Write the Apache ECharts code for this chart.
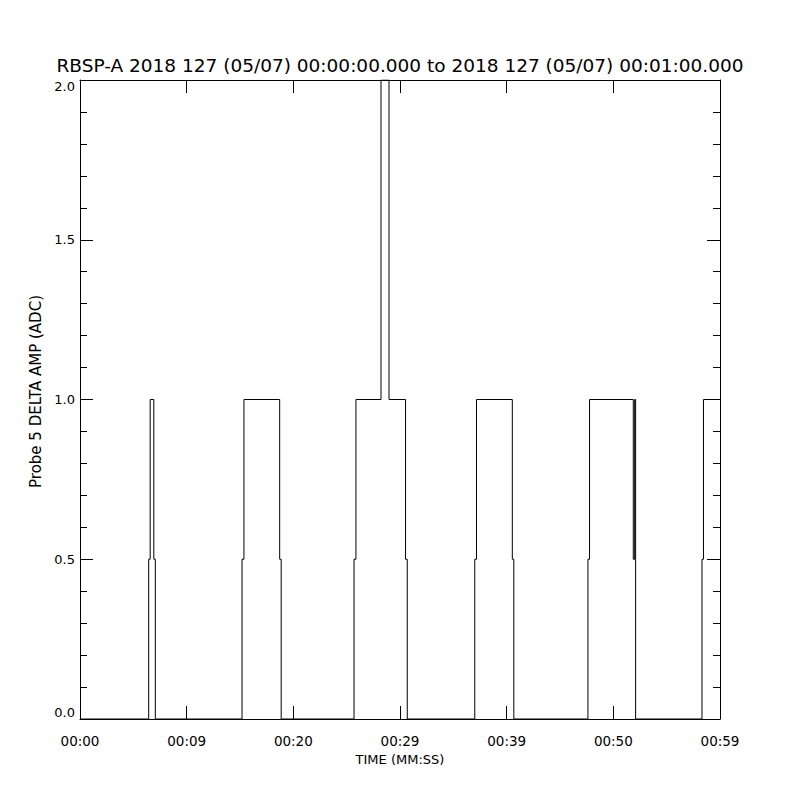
<!DOCTYPE html>
<html>
<head>
<meta charset="utf-8">
<script src="https://cdn.jsdelivr.net/npm/echarts@6/dist/echarts.min.js"></script>
<style>
html,body{margin:0;padding:0;background:#fff;}
#chart{width:800px;height:800px;}
</style>
</head>
<body>
<div id="chart"></div>
<script>
// Time (seconds since 00:00:00) at which each value begins (value holds until next time)
const times  = [0, 6.44, 6.58, 6.92, 7.06, 15.19, 15.37, 18.72, 18.86, 25.69, 25.87, 28.22, 28.97, 30.52, 30.68, 37.01, 37.17, 40.53, 40.67, 47.62, 47.77, 51.87, 52.0, 52.09, 58.31, 58.45, 60];
const values = [0,    0.5,  1,    0.5,  0,    0.5,   1,     0.5,   0,     0.5,   1,     2,     1,     0.5,   0,     0.5,   1,     0.5,   0,     0.5,   1,     0.5,   1,    0,     0.5,   1,     1];
const xTickLabels = ['00:00', '00:09', '00:20', '00:29', '00:39', '00:50', '00:59'];
const yTickValues = [0, 0.5, 1.0, 1.5, 2.0];

const titleText = 'RBSP-A 2018 127 (05/07) 00:00:00.000 to 2018 127 (05/07) 00:01:00.000';
const xName = 'TIME (MM:SS)';
const yName = 'Probe 5 DELTA AMP (ADC)';

// histogram-style polyline built from the arrays (value holds until the next time)
const stepData = [];
for (let i = 0; i < times.length - 1; i++) {
  stepData.push([times[i], values[i]]);
  stepData.push([times[i + 1], values[i]]);
}
stepData.push([times[times.length - 1], values[values.length - 1]]);

const FONT = 'DejaVu Sans';
const chart = echarts.init(document.getElementById('chart'), null, {renderer: 'svg'});

const lineStyle = {color: '#000', width: 1};
const baseX = {
  type: 'value', min: 0, max: 60, interval: 10,
  axisLine: {show: true, onZero: false, lineStyle},
  axisTick: {show: true, inside: true, length: 13, lineStyle},
  splitLine: {show: false}
};
const baseY = {
  type: 'value', min: 0, max: 2, interval: 0.5,
  axisLine: {show: true, onZero: false, lineStyle},
  axisTick: {show: true, inside: true, length: 13, lineStyle},
  minorTick: {show: true, splitNumber: 5, length: 7, lineStyle},
  splitLine: {show: false},
  minorSplitLine: {show: false}
};

chart.setOption({
  animation: false,
  backgroundColor: '#fff',
  title: {
    text: titleText, left: 'center', top: 51,
    textStyle: {fontFamily: FONT, fontSize: 18.5, fontWeight: 'normal', color: '#000'}
  },
  grid: {left: 80, right: 80, top: 80, bottom: 81},
  xAxis: [
    Object.assign({}, baseX, {
      position: 'bottom',
      name: xName, nameLocation: 'middle', nameGap: 32,
      nameTextStyle: {fontFamily: FONT, fontSize: 13, color: '#000'},
      axisLabel: {
        show: true, margin: 15, color: '#000', fontFamily: FONT, fontSize: 13.5,
        formatter: function (v) { return xTickLabels[Math.round(v / 10)] || ''; }
      }
    }),
    Object.assign({}, baseX, {position: 'top', axisLabel: {show: false}})
  ],
  yAxis: [
    Object.assign({}, baseY, {
      position: 'left',
      name: yName, nameLocation: 'middle', nameGap: 34, nameRotate: 90,
      nameTextStyle: {fontFamily: FONT, fontSize: 15, color: '#000', padding: [0, 0, 0, 16]},
      axisLabel: {
        show: true, margin: 5, color: '#000', fontFamily: FONT, fontSize: 13,
        verticalAlignMinLabel: 'bottom', verticalAlignMaxLabel: 'top',
        formatter: function (v) { return yTickValues.indexOf(v) >= 0 ? v.toFixed(1) : ''; }
      }
    }),
    Object.assign({}, baseY, {position: 'right', axisLabel: {show: false}})
  ],
  series: [{
    type: 'line', xAxisIndex: 0, yAxisIndex: 0,
    showSymbol: false, symbol: 'none',
    lineStyle: {color: '#000', width: 1},
    data: stepData
  }]
});
</script>
</body>
</html>
